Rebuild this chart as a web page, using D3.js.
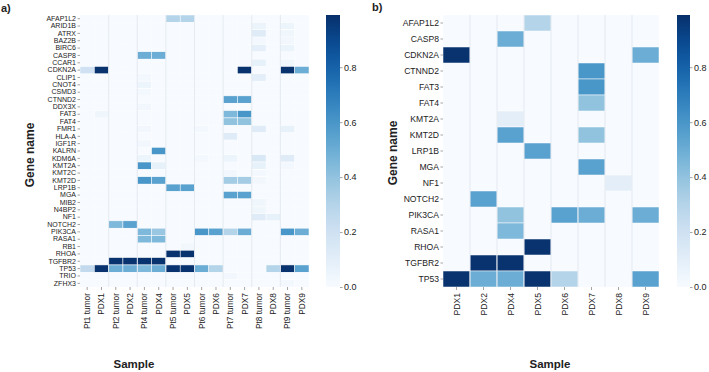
<!DOCTYPE html>
<html><head><meta charset="utf-8">
<script src="https://cdn.jsdelivr.net/npm/d3@7/dist/d3.min.js"></script>
<style>
body{margin:0;background:#fff;}
text{font-family:"Liberation Sans",Arial,sans-serif;fill:#222;}
</style></head>
<body>
<svg id="chart" width="709" height="372"></svg>
<script>
// ---------- DATA ----------
const samplesA = ["Pt1 tumor","PDX1","Pt2 tumor","PDX2","Pt4 tumor","PDX4","Pt5 tumor","PDX5","Pt6 tumor","PDX6","Pt7 tumor","PDX7","Pt8 tumor","PDX8","Pt9 tumor","PDX9"];
const genesA = ["AFAP1L2","ARID1B","ATRX","BAZ2B","BIRC6","CASP8","CCAR1","CDKN2A","CLIP1","CNOT4","CSMD3","CTNND2","DDX3X","FAT3","FAT4","FMR1","HLA-A","IGF1R","KALRN","KDM6A","KMT2A","KMT2C","KMT2D","LRP1B","MGA","MIB2","N4BP2","NF1","NOTCH2","PIK3CA","RASA1","RB1","RHOA","TGFBR2","TP53","TRIO","ZFHX3"];
// rows follow genesA, columns follow samplesA
const valuesA = [
  [0,0,0,0,0,0,.30,.30,0,0,0,0,0,0,0,0],        // AFAP1L2
  [0,0,0,0,0,0,0,0,0,0,0,0,.06,0,.05,0],         // ARID1B
  [0,0,0,0,0,0,0,0,0,0,0,0,.12,0,.04,0],         // ATRX
  [0,0,0,0,0,0,0,0,0,0,0,0,.02,0,.03,0],         // BAZ2B
  [0,0,0,0,0,0,0,0,0,0,0,0,.09,0,.06,0],         // BIRC6
  [0,0,0,0,.50,.50,0,0,0,0,0,0,0,0,0,0],         // CASP8
  [0,0,0,0,0,0,0,0,0,0,0,0,.08,0,.04,0],         // CCAR1
  [.20,.98,0,0,0,0,0,0,0,0,0,.98,0,0,.98,.50],   // CDKN2A
  [0,0,0,0,.02,0,0,0,0,0,0,0,.10,0,0,0],         // CLIP1
  [0,0,0,0,.05,0,0,0,0,0,0,0,0,0,0,0],           // CNOT4
  [0,0,0,0,.02,0,0,0,0,0,0,0,0,0,0,0],           // CSMD3
  [0,0,0,0,0,0,0,0,0,0,.55,.55,0,0,0,0],         // CTNND2
  [0,0,0,0,.03,0,0,0,0,0,0,0,0,0,0,0],           // DDX3X
  [0,.04,0,0,0,0,0,0,0,0,.45,.60,0,0,0,0],       // FAT3
  [0,0,0,0,0,0,0,0,0,0,.40,.40,0,0,0,0],         // FAT4
  [0,0,0,0,.03,0,0,0,.02,0,0,0,.12,0,.08,0],     // FMR1
  [0,0,0,0,0,0,0,0,0,0,.12,0,0,0,0,0],           // HLA-A
  [0,0,0,0,.03,0,0,0,0,0,0,0,0,0,0,0],           // IGF1R
  [0,0,0,0,0,.60,0,0,0,0,0,0,0,0,0,0],           // KALRN
  [0,0,0,0,.05,0,0,0,.02,0,.05,0,.15,0,.12,0],   // KDM6A
  [0,0,0,0,.60,.08,0,0,0,0,0,0,.08,0,.02,0],     // KMT2A
  [0,0,0,0,0,0,0,0,0,0,.03,0,.02,0,0,0],         // KMT2C
  [0,0,0,0,.60,.55,0,0,0,0,.35,.35,.03,0,0,0],   // KMT2D
  [0,0,0,0,0,0,.55,.55,0,0,0,0,0,0,0,0],         // LRP1B
  [0,0,0,0,0,0,0,0,0,0,.55,.55,0,0,0,0],         // MGA
  [0,0,0,0,0,0,0,0,0,0,0,0,.04,0,0,0],           // MIB2
  [0,0,0,0,0,0,0,0,0,0,0,0,.04,0,0,0],           // N4BP2
  [0,0,0,0,0,0,0,0,0,0,0,0,.12,.08,0,0],         // NF1
  [0,0,.45,.55,0,0,0,0,0,0,0,0,0,0,0,0],         // NOTCH2
  [0,0,0,0,.45,.38,0,0,.60,.55,.30,.50,0,0,.60,.50], // PIK3CA
  [0,0,0,0,.45,.45,0,0,0,0,0,0,0,0,0,0],         // RASA1
  [0,0,0,0,0,0,0,.03,0,0,0,0,0,0,0,0],           // RB1
  [0,0,0,0,0,0,.98,.98,0,0,0,0,0,0,0,0],         // RHOA
  [0,0,.98,.98,.98,.98,0,0,0,0,0,0,0,0,0,0],     // TGFBR2
  [.25,.98,.50,.50,.45,.50,.98,.98,.50,.30,0,0,0,.30,.98,.55], // TP53
  [0,0,0,0,0,0,0,0,0,0,.03,0,0,0,0,0],           // TRIO
  [0,0,0,0,0,0,0,0,0,0,0,0,0,0,.02,0]            // ZFHX3
];

const samplesB = ["PDX1","PDX2","PDX4","PDX5","PDX6","PDX7","PDX8","PDX9"];
const genesB = ["AFAP1L2","CASP8","CDKN2A","CTNND2","FAT3","FAT4","KMT2A","KMT2D","LRP1B","MGA","NF1","NOTCH2","PIK3CA","RASA1","RHOA","TGFBR2","TP53"];
const valuesB = [
  [0,0,0,.30,0,0,0,0],       // AFAP1L2
  [0,0,.50,0,0,0,0,0],       // CASP8
  [.98,0,0,0,0,0,0,.50],     // CDKN2A
  [0,0,0,0,0,.60,0,0],       // CTNND2
  [0,0,0,0,0,.60,0,0],       // FAT3
  [0,0,0,0,0,.40,0,0],       // FAT4
  [0,0,.10,0,0,0,0,0],       // KMT2A
  [0,0,.55,0,0,.40,0,0],     // KMT2D
  [0,0,0,.55,0,0,0,0],       // LRP1B
  [0,0,0,0,0,.55,0,0],       // MGA
  [0,0,0,0,0,0,.10,0],       // NF1
  [0,.55,0,0,0,0,0,0],       // NOTCH2
  [0,0,.40,0,.55,.50,0,.50], // PIK3CA
  [0,0,.45,0,0,0,0,0],       // RASA1
  [0,0,0,.98,0,0,0,0],       // RHOA
  [0,.98,.98,0,0,0,0,0],     // TGFBR2
  [.98,.50,.50,.98,.30,0,0,.55] // TP53
];
const colorTicks = [0, 0.2, 0.4, 0.6, 0.8];
const colorMax = 0.99;

// ---------- DRAW ----------
const svg = d3.select("#chart");
const color = d3.scaleSequential(d3.interpolateBlues).domain([0, colorMax]);

const defs = svg.append("defs");
const grad = defs.append("linearGradient").attr("id","cbgrad")
  .attr("x1","0").attr("y1","1").attr("x2","0").attr("y2","0");
d3.range(0, 1.0001, 0.05).forEach(t => grad.append("stop").attr("offset", t).attr("stop-color", d3.interpolateBlues(t)));

function heatmap(cfg) {
  const {genes, samples, values, x0, x1, y0, y1, yFont, xFont, separators, cbX, cbW} = cfg;
  const x = d3.scaleBand().domain(samples).range([x0, x1]);
  const y = d3.scaleBand().domain(genes).range([y0, y1]);
  const g = svg.append("g");
  const cells = [];
  genes.forEach((gn, i) => samples.forEach((s, j) => cells.push({g: gn, s, v: values[i][j]})));
  g.selectAll("rect.cell").data(cells).join("rect").attr("class","cell")
    .attr("x", d => x(d.s)).attr("y", d => y(d.g))
    .attr("width", x.bandwidth()).attr("height", y.bandwidth())
    .attr("fill", d => color(d.v))
    .attr("stroke", d => d.v > 0 ? "#ffffff" : "none").attr("stroke-width", 0.5);
  separators.forEach(s => {
    g.append("line").attr("x1", x(s)).attr("x2", x(s)).attr("y1", y0).attr("y2", y1)
      .attr("stroke", "#dfe6ee").attr("stroke-width", 0.8);
  });
  const ya = svg.append("g").attr("transform", `translate(${x0},0)`)
    .call(d3.axisLeft(y).tickSize(2.5).tickPadding(1.5));
  ya.select(".domain").remove();
  ya.selectAll(".tick line").attr("stroke", "#666").attr("stroke-width", 0.6);
  ya.selectAll(".tick text").attr("font-size", yFont).attr("fill", "#222")
    .attr("font-family", "'Liberation Sans', Arial, sans-serif");
  const xa = svg.append("g").attr("transform", `translate(0,${y1})`)
    .call(d3.axisBottom(x).tickSize(3).tickPadding(2));
  xa.select(".domain").remove();
  xa.selectAll(".tick line").attr("stroke", "#666").attr("stroke-width", 0.6);
  xa.selectAll(".tick text").attr("font-size", xFont).attr("fill", "#222")
    .attr("font-family", "'Liberation Sans', Arial, sans-serif")
    .attr("transform", "rotate(-90)").attr("text-anchor", "end")
    .attr("x", -6).attr("y", 0).attr("dy", "0.35em");
  const cy = d3.scaleLinear().domain([0, colorMax]).range([y1, y0]);
  svg.append("rect").attr("x", cbX).attr("y", y0).attr("width", cbW).attr("height", y1 - y0)
    .attr("fill", "url(#cbgrad)");
  const ca = svg.append("g").attr("transform", `translate(${cbX + cbW},0)`)
    .call(d3.axisRight(cy).tickValues(colorTicks).tickFormat(d3.format(".1f")).tickSize(2.5).tickPadding(1.5));
  ca.select(".domain").remove();
  ca.selectAll(".tick line").attr("stroke", "#666").attr("stroke-width", 0.6);
  ca.selectAll(".tick text").attr("font-size", 9).attr("fill", "#222")
    .attr("font-family", "'Liberation Sans', Arial, sans-serif");
}

heatmap({genes: genesA, samples: samplesA, values: valuesA, x0: 80, x1: 309, y0: 15, y1: 287,
  yFont: 7, xFont: 8.3, separators: ["Pt2 tumor","Pt4 tumor","Pt5 tumor","Pt6 tumor","Pt7 tumor","Pt8 tumor","Pt9 tumor"],
  cbX: 326, cbW: 14});
heatmap({genes: genesB, samples: samplesB, values: valuesB, x0: 443, x1: 659, y0: 15, y1: 287,
  yFont: 8.6, xFont: 8.6, separators: samplesB.slice(1), cbX: 677, cbW: 13});

const lab = (t, x, y, size, rot) => {
  const e = svg.append("text").text(t).attr("font-size", size).attr("font-weight", "bold")
    .attr("text-anchor", rot ? "middle" : "start");
  if (rot) e.attr("transform", `translate(${x},${y}) rotate(-90)`);
  else e.attr("x", x).attr("y", y);
  return e;
};
lab("a)", 1, 12, 11, false);
lab("b)", 372, 11, 11, false);
lab("Gene name", 34, 155, 12, true);
lab("Gene name", 397, 153, 12, true);
lab("Sample", 134, 368, 11.5, false).attr("text-anchor", "middle");
lab("Sample", 550, 368, 11.5, false).attr("text-anchor", "middle");
</script>
</body></html>
